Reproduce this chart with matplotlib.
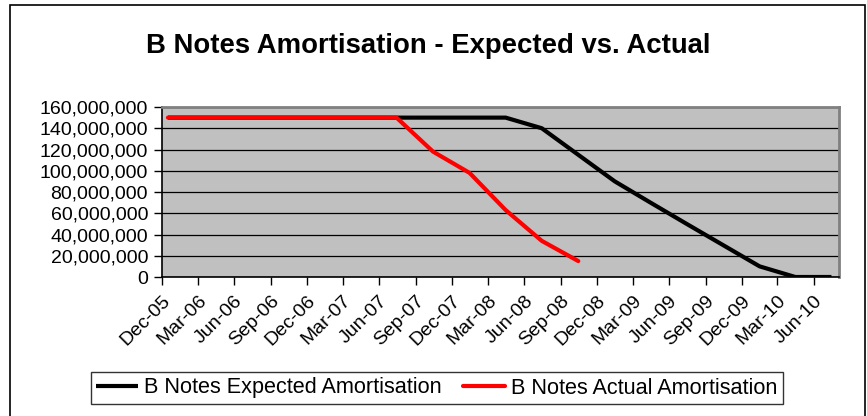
import matplotlib
matplotlib.use("Agg")
import matplotlib.pyplot as plt
import matplotlib.dates as mdates
from matplotlib.patches import Rectangle
from matplotlib.ticker import FuncFormatter, MultipleLocator
import pandas as pd

# payment dates (quarterly, mid-month), first point is the closing date
dates = ["2005-12-16", "2006-01-15", "2006-04-15", "2006-07-15", "2006-10-15",
         "2007-01-15", "2007-04-15", "2007-07-15", "2007-10-15", "2008-01-15",
         "2008-04-15", "2008-07-15", "2008-10-15", "2009-01-15", "2009-04-15",
         "2009-07-15", "2009-10-15", "2010-01-15", "2010-04-15", "2010-07-15"]

expected = [150e6, 150e6, 150e6, 150e6, 150e6, 150e6, 150e6, 150e6, 150e6, 150e6,
            150e6, 140e6, 115e6, 90e6, 70e6, 50e6, 30e6, 10e6, 0, 0]

actual = [150e6, 150e6, 150e6, 150e6, 150e6, 150e6, 150e6, 150e6,
          118e6, 98e6, 63e6, 34e6, 15e6]

x = pd.to_datetime(dates)

plt.rcParams['font.family'] = ['Liberation Sans', 'DejaVu Sans']

W, H = 867, 416
fig = plt.figure(figsize=(W / 100, H / 100), dpi=100)

# chart area border
fig.add_artist(Rectangle((10 / W, -0.05), (865 - 10) / W, (H - 5) / H + 0.05,
                         transform=fig.transFigure, fill=False,
                         edgecolor="black", lw=1.2, clip_on=False))

ax = fig.add_axes([162 / W, (H - 277) / H, (839 - 162) / W, (277 - 107) / H])
ax.set_facecolor("#C0C0C0")

ax.plot(x, expected, color="black", lw=3, label="B Notes Expected Amortisation",
        solid_capstyle="butt", zorder=3)
ax.plot(x[:len(actual)], actual, color="#FF0000", lw=3,
        label="B Notes Actual Amortisation", solid_capstyle="round", zorder=4)

ax.set_ylim(0, 160e6)
ax.yaxis.set_major_locator(MultipleLocator(20e6))
ax.yaxis.set_major_formatter(FuncFormatter(lambda v, p: "{:,.0f}".format(v)))
ax.grid(axis="y", color="black", lw=0.9)
ax.set_axisbelow(True)

ax.set_xlim(pd.Timestamp("2005-12-01"), pd.Timestamp("2010-08-03"))
ax.xaxis.set_major_locator(mdates.MonthLocator(bymonth=[3, 6, 9, 12]))
ax.xaxis.set_major_formatter(mdates.DateFormatter("%b-%y"))
for lab in ax.get_xticklabels():
    lab.set_rotation(45)
    lab.set_ha("right")
    lab.set_rotation_mode("anchor")

ax.tick_params(axis="both", labelsize=14, length=6, width=1, color="black", direction="out")
ax.tick_params(axis="y", pad=4)
ax.tick_params(axis="x", pad=5)

for s in ["top", "right"]:
    ax.spines[s].set_color("#808080")
    ax.spines[s].set_linewidth(2)
for s in ["left", "bottom"]:
    ax.spines[s].set_color("black")
    ax.spines[s].set_linewidth(1.2)

fig.text(428 / W, 1 - 46 / H, "B Notes Amortisation - Expected vs. Actual",
         ha="center", va="center", fontsize=19.8, fontweight="bold")

leg = fig.legend(loc="center", bbox_to_anchor=(437 / W, 1 - 388 / H), ncol=2,
                 fontsize=15.6, frameon=True, fancybox=False, edgecolor="black",
                 handlelength=1.9, handletextpad=0.3, columnspacing=1.0,
                 borderpad=0.25, borderaxespad=0)
leg.get_frame().set_linewidth(1)

fig.savefig("out.png", dpi=100)
